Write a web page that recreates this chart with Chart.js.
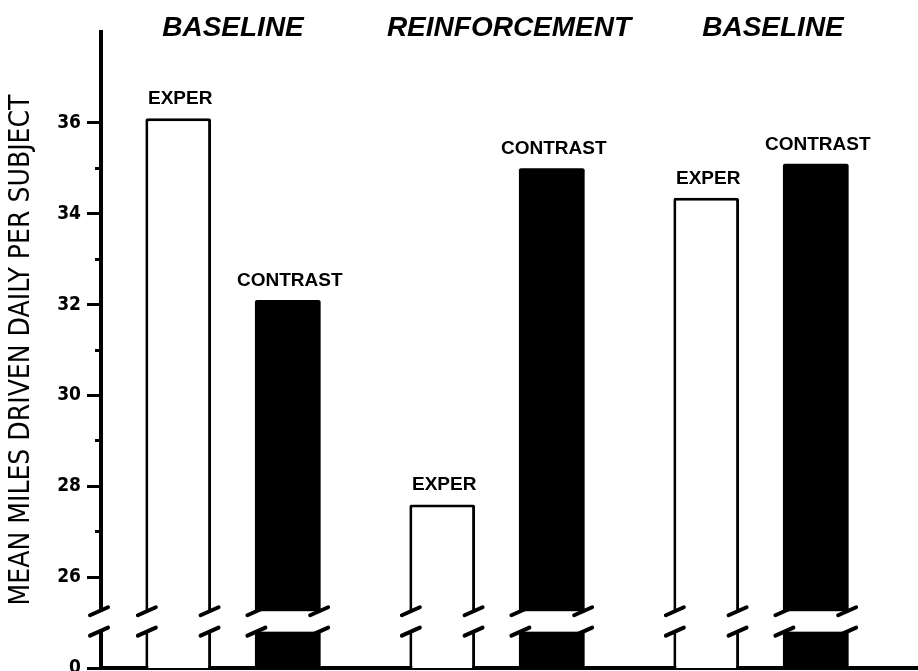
<!DOCTYPE html>
<html>
<head>
<meta charset="utf-8">
<title>Mean miles driven daily per subject</title>
<script src="https://cdn.jsdelivr.net/npm/chart.js@4.4.1/dist/chart.umd.min.js"></script>
<style>
  html, body { margin: 0; padding: 0; background: #fff; }
  #wrap { width: 918px; height: 671px; position: relative; }
</style>
</head>
<body>
<div id="wrap"><canvas id="grafico"></canvas></div>
<script>
// fases del estudio y millas medias por grupo
const phases = ['BASELINE', 'REINFORCEMENT', 'BASELINE'];
const groupNames = ['EXPER', 'CONTRAST'];
const experMiles = [36.1, 27.6, 34.35];
const contrastMiles = [32.1, 35.0, 35.1];

// eje Y cortado: el fondo del eje se rotula "0"
const majorTicks = [24, 26, 28, 30, 32, 34, 36];
const minorTicks = [27, 29, 31, 33, 35];
const zeroLabel = '0';
const axisMin = 24, axisMax = 38;
const breakAt = [24.8, 25.25];

const condensed = '"DejaVu Sans Condensed", "Noto Sans", sans-serif';
const sans = '"Liberation Sans", Arial, sans-serif';

// rotulos sobre las barras y titulos de fase
const labelPlugin = {
  id: 'labels',
  afterDatasetsDraw(chart) {
    const ctx = chart.ctx;
    ctx.save();
    ctx.fillStyle = '#000';
    ctx.textAlign = 'center';
    ctx.textBaseline = 'alphabetic';
    ctx.font = 'bold 19px ' + sans;
    chart.data.datasets.forEach((ds, i) => {
      chart.getDatasetMeta(i).data.forEach(bar => {
        ctx.fillText(ds.label, bar.x + 2, bar.y - 14);
      });
    });
    const x = chart.scales.x;
    ctx.font = 'italic bold 28px ' + sans;
    ctx.textBaseline = 'middle';
    phases.forEach((p, i) => {
      ctx.fillText(p, x.getPixelForValue(i) + (i ? 12 : 0), 28);
    });
    ctx.restore();
  }
};

// marcas de corte en el eje y en cada barra
const breakPlugin = {
  id: 'breaks',
  afterDraw(chart) {
    const ctx = chart.ctx;
    const y = chart.scales.y;
    const area = chart.chartArea;
    const yHi = y.getPixelForValue(breakAt[1]);
    const yLo = y.getPixelForValue(breakAt[0]);
    const yZero = y.getPixelForValue(axisMin);
    ctx.save();
    // la linea base sigue hasta el borde derecho
    ctx.strokeStyle = '#000';
    ctx.lineWidth = 4;
    ctx.beginPath();
    ctx.moveTo(area.right - 1, yZero);
    ctx.lineTo(chart.width, yZero);
    ctx.stroke();

    const edges = [area.left - 2];
    ctx.fillStyle = '#fff';
    ctx.fillRect(area.left - 6, yHi, 10, yLo - yHi);
    chart.data.datasets.forEach((ds, i) => {
      const inset = ds.borderWidth ? ds.borderWidth / 2 : 1.5;
      chart.getDatasetMeta(i).data.forEach(bar => {
        const half = bar.width / 2;
        ctx.fillRect(bar.x - half - 1, yHi, bar.width + 2, yLo - yHi);
        edges.push(bar.x - half + inset, bar.x + half - inset);
      });
    });
    ctx.lineCap = 'round';
    edges.forEach(ex => {
      [yHi, yLo].forEach(ey => {
        ctx.beginPath();
        ctx.moveTo(ex - 9, ey + 4);
        ctx.lineTo(ex + 9, ey - 4);
        ctx.stroke();
      });
    });
    ctx.restore();
  }
};

const ctx = document.getElementById('grafico').getContext('2d');
const myChart = new Chart(ctx, {
  type: 'bar',
  data: {
    labels: phases,
    datasets: [
      {
        label: groupNames[0],
        data: experMiles,
        backgroundColor: '#fff',
        borderColor: '#000',
        borderWidth: 3,
        borderRadius: 2,
        borderSkipped: 'start'
      },
      {
        label: groupNames[1],
        data: contrastMiles,
        backgroundColor: '#000',
        borderColor: '#000',
        borderWidth: 0,
        borderRadius: 2
      }
    ]
  },
  options: {
    responsive: true,
    maintainAspectRatio: false,
    animation: false,
    categoryPercentage: 0.83,
    barPercentage: 0.6,
    layout: { padding: { top: 32, right: 25, bottom: 3, left: 0 } },
    plugins: {
      legend: { display: false },
      tooltip: { enabled: false }
    },
    scales: {
      x: {
        grid: { display: false, drawTicks: false },
        border: { display: true, width: 4, color: '#000' },
        ticks: { display: false },
        afterFit: s => { s.height = 0; }
      },
      y: {
        type: 'linear',
        position: 'left',
        weight: 1,
        min: axisMin,
        max: axisMax,
        afterBuildTicks: s => { s.ticks = majorTicks.map(v => ({ value: v })); },
        afterFit: s => { s.width = 101; s.paddingTop = 0; s.paddingBottom = 0; },
        ticks: {
          autoSkip: false,
          padding: 6,
          color: '#000',
          font: { family: condensed, weight: 'bold', size: 19 },
          callback: v => (v === axisMin ? zeroLabel : v)
        },
        grid: { drawOnChartArea: false, tickLength: 14, tickWidth: 3, tickColor: '#000' },
        border: { width: 4, color: '#000' },
        title: {
          display: true,
          text: 'MEAN MILES DRIVEN DAILY PER SUBJECT',
          color: '#000',
          font: { family: condensed, size: 28 },
          padding: { top: 5, bottom: 0 }
        }
      },
      yMinor: {
        type: 'linear',
        axis: 'y',
        position: 'left',
        weight: 0,
        min: axisMin,
        max: axisMax,
        afterBuildTicks: s => { s.ticks = minorTicks.map(v => ({ value: v })); },
        afterFit: s => { s.width = 0; s.paddingTop = 0; s.paddingBottom = 0; },
        ticks: { display: false },
        grid: { drawOnChartArea: false, tickLength: 6, tickWidth: 3, tickColor: '#000' },
        border: { display: false }
      }
    }
  },
  plugins: [labelPlugin, breakPlugin]
});
</script>
</body>
</html>
